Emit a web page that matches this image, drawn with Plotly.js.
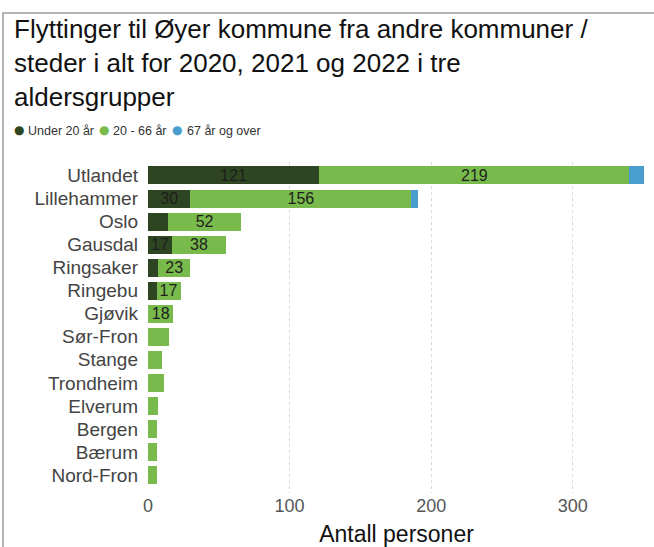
<!DOCTYPE html>
<html><head><meta charset="utf-8">
<script src="https://cdn.plot.ly/plotly-3.0.1.min.js"></script>
<style>
html,body{margin:0;padding:0;background:#fff;}
#wrap{position:relative;width:654px;height:547px;overflow:hidden;}
#frame{position:absolute;left:2px;top:12px;width:700px;height:600px;border-left:2px solid #b4b4b4;border-top:2px solid #b4b4b4;pointer-events:none;z-index:5;}
#chart{position:absolute;left:0;top:0;width:654px;height:547px;}
</style></head>
<body><div id="wrap"><div id="frame"></div><div id="chart"></div></div>
<script>
const places = ["Utlandet","Lillehammer","Oslo","Gausdal","Ringsaker","Ringebu","Gjøvik","Sør-Fron","Stange","Trondheim","Elverum","Bergen","Bærum","Nord-Fron"];
const under20 = [121,30,14,17,7,6,0,0,0,0,0,0,0,0];
const age20to66 = [219,156,52,38,23,17,18,15,10,11,7,6,6,6];
const age67plus = [10,5,0,0,0,0,0,0,0,0,0,0,0,0];
const seriesNames = ["Under 20 år","20 - 66 år","67 år og over"];
const colors = ["#2e4522","#78bb4c","#4a9dcf"];
const xTicks = [0,100,200,300];

const FONT = "Liberation Sans";
function labels(v){ return v.map(x => x >= 17 ? String(x) : ""); }
const series = [under20, age20to66, age67plus];
const traces = series.map((vals,i) => ({
  type:"bar", orientation:"h", y:places, x:vals, name:seriesNames[i],
  marker:{color:colors[i], line:{width:0}},
  text: labels(vals), textposition:"inside", insidetextanchor:"middle",
  textangle:0, constraintext:"none",
  textfont:{family:FONT, size:16, color:"#1e1e1e"},
  showlegend:false, hoverinfo:"x+y"
}));

const legendDot = [19, 104, 177];
const legendText = [26, 111, 185];
const annotations = [];
seriesNames.forEach((n,i) => {
  annotations.push({xref:"paper", yref:"paper", x:(legendDot[i]-148)/497.5, y:1+(161.5-129.5)/331.5,
    xanchor:"center", yanchor:"middle", showarrow:false, text:"●",
    font:{family:"DejaVu Sans", size:12, color:colors[i]}});
  annotations.push({xref:"paper", yref:"paper", x:(legendText[i]-148)/497.5, y:1+(161.5-130)/331.5,
    xanchor:"left", yanchor:"middle", showarrow:false, text:n,
    font:{family:FONT, size:12.5, color:"#333"}});
});

const layout = {
  width:654, height:547,
  margin:{l:148, r:8.5, t:161.5, b:54},
  paper_bgcolor:"#fff", plot_bgcolor:"#fff",
  barmode:"stack", bargap:0.22,
  title:{text:"Flyttinger til Øyer kommune fra andre kommuner /<br>steder i alt for 2020, 2021 og 2022 i tre<br>aldersgrupper",
    x:14/654, xanchor:"left", xref:"container", y:1-38/547, yanchor:"top", yref:"container",
    font:{family:FONT, size:26, color:"#111"}},
  xaxis:{range:[0,351], tickvals:xTicks, ticktext:xTicks.map(String),
    showgrid:true, gridcolor:"#d9d9d9", griddash:"dot", gridwidth:1, zeroline:false,
    showline:false, ticks:"", tickfont:{family:FONT, size:18, color:"#555"},
    title:{text:"Antall personer", font:{family:FONT, size:23, color:"#111"}, standoff:10}},
  yaxis:{categoryorder:"array", categoryarray:places, range:[13.78,-0.585],
    showgrid:false, zeroline:false, showline:false, ticks:"", ticklabelstandoff:9,
    tickfont:{family:FONT, size:19, color:"#444"}},
  annotations:annotations,
  showlegend:false
};
Plotly.newPlot("chart", traces, layout, {displayModeBar:false, staticPlot:true});
</script></body></html>
